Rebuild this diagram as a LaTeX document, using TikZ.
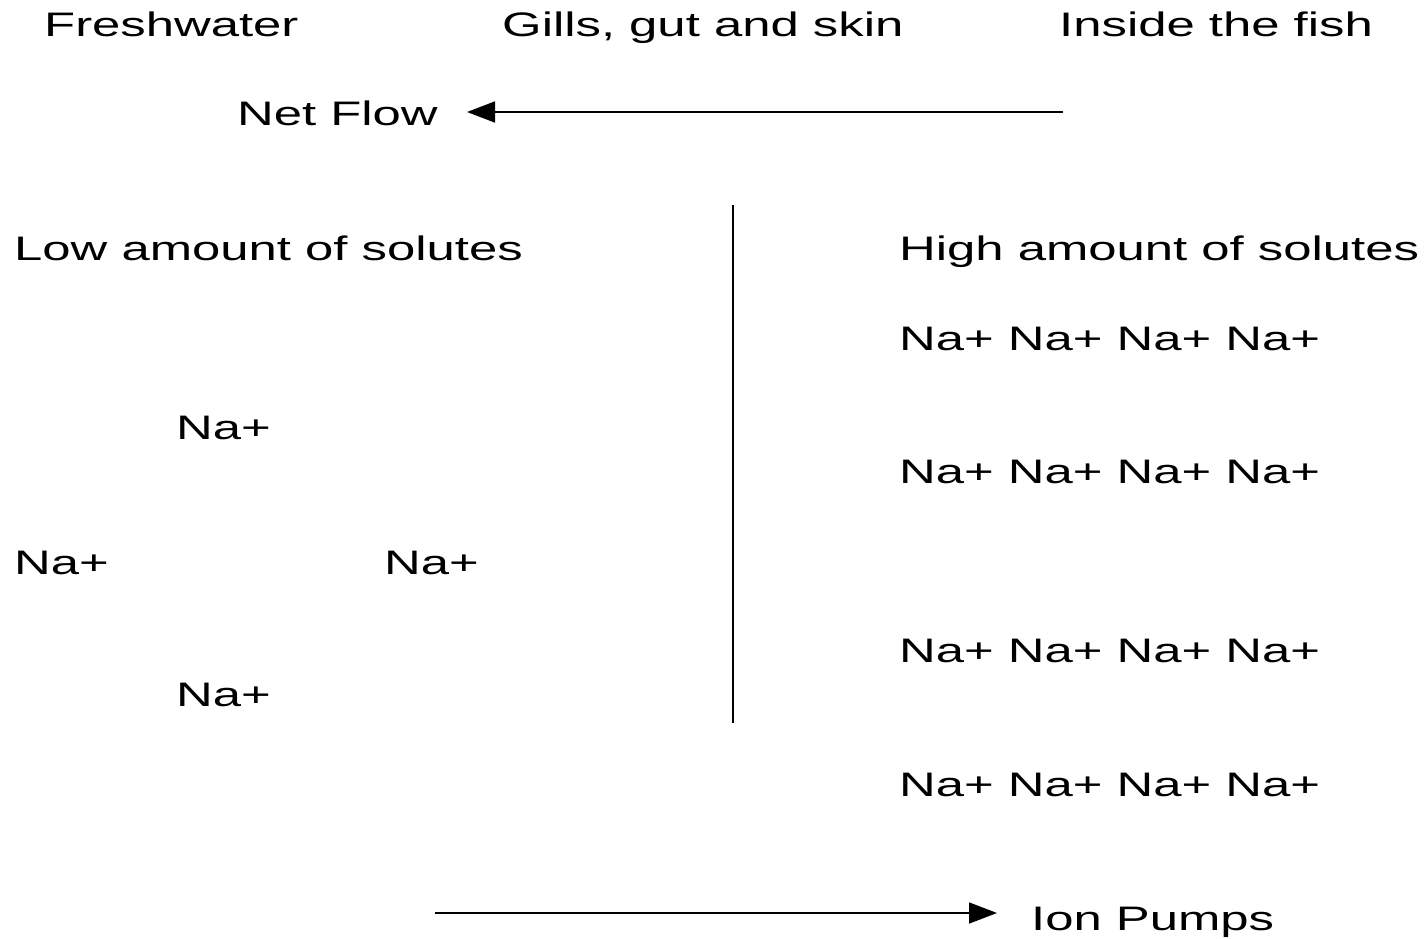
\documentclass[tikz,border=0pt]{standalone}
\usepackage{fontspec}
\setmainfont{Liberation Sans}[FakeStretch=1.495]
\usetikzlibrary{arrows.meta}
\begin{document}
\begin{tikzpicture}[x=1pt,y=-1pt,
  lbl/.style={anchor=base west,inner sep=0pt,font=\fontsize{34}{40}\selectfont},
  conn/.style={line width=1.6pt,-{Triangle[length=28pt,width=21pt]}},
  wall/.style={line width=2.6pt}]
\useasboundingbox[fill=white] (0,0) rectangle (1425,939);
\node[lbl] (fresh) at (44,37) {Freshwater};
\node[lbl] (gills) at (502,37) {Gills, gut and skin};
\node[lbl] (inside) at (1059,37) {Inside the fish};
\node[lbl] (net) at (237,126) {Net Flow};
\coordinate (nfs) at (1063,112);
\coordinate (nfe) at (467,112);
\draw[conn] (nfs) -- (nfe);
\coordinate (wt) at (733,205);
\coordinate (wb) at (733,723);
\draw[wall] (wt) -- (wb);
\node[lbl] (low) at (14,260) {Low amount of solutes};
\node[lbl] (high) at (899,260) {High amount of solutes};
\node[lbl] (r1) at (899,350) {Na+ Na+ Na+ Na+};
\node[lbl] (r2) at (899,483) {Na+ Na+ Na+ Na+};
\node[lbl] (r3) at (899,662) {Na+ Na+ Na+ Na+};
\node[lbl] (r4) at (899,796) {Na+ Na+ Na+ Na+};
\node[lbl] (l1) at (176,439) {Na+};
\node[lbl] (l2) at (14,574) {Na+};
\node[lbl] (l3) at (384,574) {Na+};
\node[lbl] (l4) at (176,706) {Na+};
\coordinate (ips) at (435,913);
\coordinate (ipe) at (997,913);
\draw[conn] (ips) -- (ipe);
\node[lbl] (ion) at (1031,930) {Ion Pumps};
\end{tikzpicture}
\end{document}
